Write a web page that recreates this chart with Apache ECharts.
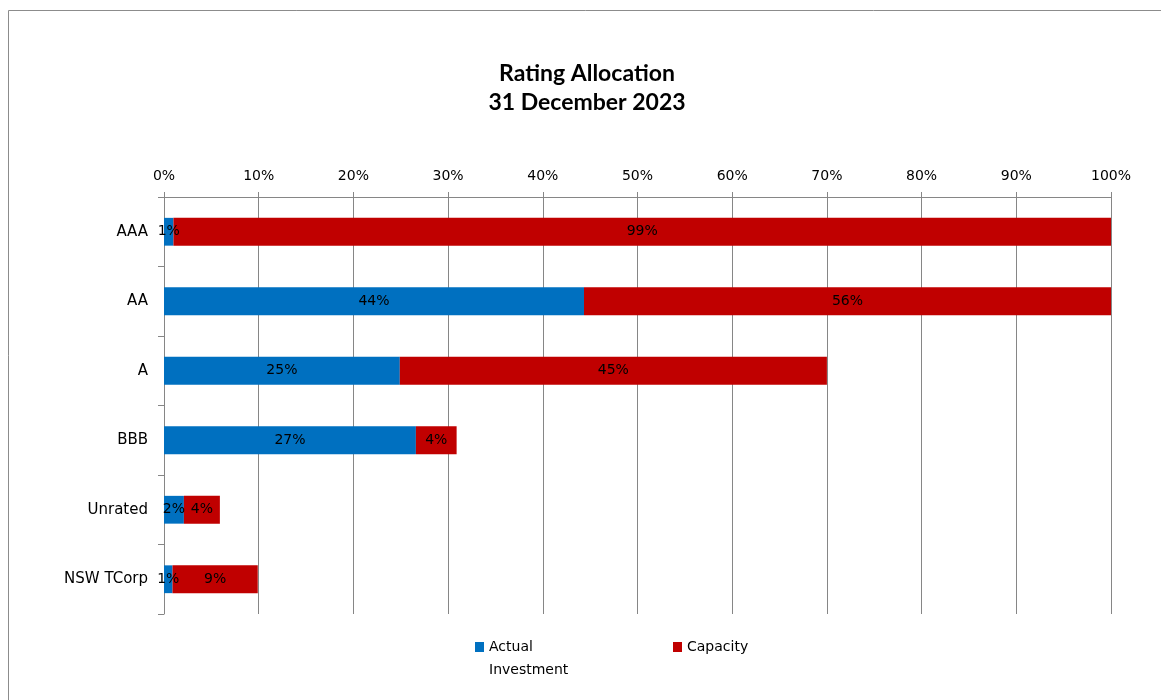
<!DOCTYPE html>
<html>
<head>
<meta charset="utf-8">
<script src="https://cdn.jsdelivr.net/npm/echarts@6/dist/echarts.min.js"></script>
<style>html,body{margin:0;padding:0;background:#fff;}#c{width:1161px;height:700px;}</style>
</head>
<body>
<div id="c"></div>
<script>
const categories = ['AAA', 'AA', 'A', 'BBB', 'Unrated', 'NSW TCorp'];
const actualInvestment = [1.0, 44.35, 24.9, 26.6, 2.1, 0.9];
const capacity = [99.0, 55.65, 45.1, 4.3, 3.8, 9.0];
const xTicks = [0, 10, 20, 30, 40, 50, 60, 70, 80, 90, 100];

const chart = echarts.init(document.getElementById('c'));
const FONT = 'DejaVu Sans';
const labelCfg = {
  show: true, position: 'inside', color: '#000', fontSize: 14, fontFamily: FONT,
  formatter: p => Math.round(p.value) + '%'
};
chart.setOption({
  animation: false,
  backgroundColor: '#fff',
  title: {
    text: 'Rating Allocation\n31 December 2023',
    left: 582, textAlign: 'center', top: 54,
    textStyle: { fontFamily: 'Lato', fontWeight: 'bold', fontSize: 23, color: '#000', lineHeight: 29 }
  },
  graphic: [{
    type: 'rect', shape: { x: 8.5, y: 10.5, width: 1170, height: 720 },
    style: { fill: 'none', stroke: '#8c8c8c', lineWidth: 1 }, silent: true
  }, {
    type: 'text', left: 489, top: 663,
    style: { text: 'Investment', fontFamily: FONT, fontSize: 14, fill: '#000' }, silent: true
  }],
  legend: [{
    data: ['Actual Investment'], left: 470, top: 635, itemWidth: 9, itemHeight: 10,
    icon: 'rect',
    formatter: () => 'Actual',
    textStyle: { fontFamily: FONT, fontSize: 14, color: '#000' }
  }, {
    data: ['Capacity'], left: 668, top: 635, itemWidth: 9, itemHeight: 10,
    icon: 'rect',
    textStyle: { fontFamily: FONT, fontSize: 14, color: '#000' }
  }],
  grid: { left: 164, top: 197, right: 50, bottom: 86 },
  xAxis: {
    type: 'value', position: 'top', min: 0, max: 100, interval: 10,
    axisLine: { show: true, lineStyle: { color: '#868686' } },
    axisTick: { show: true, length: 5, lineStyle: { color: '#868686' } },
    splitLine: { show: true, lineStyle: { color: '#868686' } },
    axisLabel: { formatter: v => xTicks.includes(v) ? v + '%' : '', fontFamily: FONT, fontSize: 14, color: '#000', margin: 14 }
  },
  yAxis: {
    type: 'category', inverse: true, data: categories,
    axisLine: { show: true, lineStyle: { color: '#868686' } },
    axisTick: { show: true, length: 6, lineStyle: { color: '#868686' } },
    axisLabel: { fontFamily: FONT, fontSize: 15, color: '#000', margin: 16 }
  },
  series: [{
    name: 'Actual Investment', type: 'bar', stack: 't', data: actualInvestment,
    barCategoryGap: '60%', itemStyle: { color: '#0070C0' }, label: labelCfg
  }, {
    name: 'Capacity', type: 'bar', stack: 't', data: capacity,
    barCategoryGap: '60%', itemStyle: { color: '#C00000' }, label: labelCfg
  }]
});
</script>
</body>
</html>
